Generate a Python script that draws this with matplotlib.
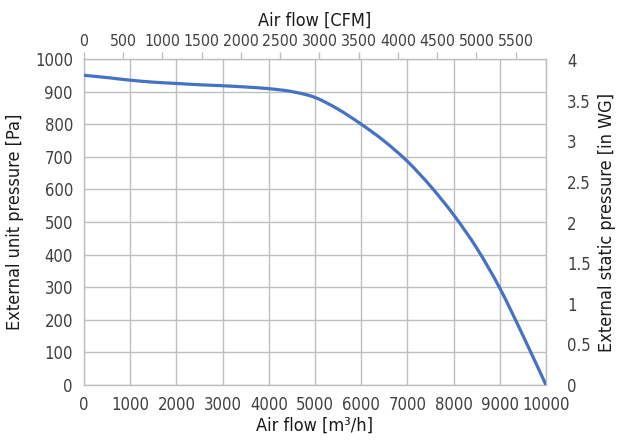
import matplotlib
matplotlib.use("Agg")
import matplotlib.pyplot as plt
from matplotlib import font_manager
from matplotlib.path import Path
from matplotlib.patches import PathPatch

# Fan curve: air flow [m3/h] vs external unit pressure [Pa]
airflow_m3h = [0, 500, 1000, 1500, 2000, 2500, 3000, 3500, 4000, 4500, 5000,
               5500, 6000, 6500, 7000, 7500, 8000, 8500, 9000, 9500, 10000]
pressure_pa = [950, 943, 935, 929, 925, 921, 918, 914, 909, 900, 882,
               846, 800, 748, 686, 610, 522, 420, 297, 152, 0]

bottom_ticks = [0, 1000, 2000, 3000, 4000, 5000, 6000, 7000, 8000, 9000, 10000]
left_ticks = [0, 100, 200, 300, 400, 500, 600, 700, 800, 900, 1000]
top_ticks = [0, 500, 1000, 1500, 2000, 2500, 3000, 3500, 4000, 4500, 5000, 5500]
right_ticks = [0, 0.5, 1, 1.5, 2, 2.5, 3, 3.5, 4]

M3H_TO_CFM = 0.588578
PA_PER_INWG = 249.0889

# Prefer a narrow sans-serif face if one is installed
narrow = None
for f in font_manager.fontManager.ttflist:
    nm = f.fname.lower().rsplit("/", 1)[-1]
    if ("narrow" in nm or "condensed" in nm) and "sans" in nm \
            and not any(k in nm for k in ("bold", "italic", "oblique", "mono", "serif")):
        narrow = f
        break

if narrow is not None:
    plt.rcParams["font.family"] = [narrow.name, "DejaVu Sans"]
    plt.rcParams["font.stretch"] = narrow.stretch
    tick_size, top_size, lab_size = 12, 11.3, 13
else:
    plt.rcParams["font.family"] = ["Roboto", "DejaVu Sans"]
    tick_size, top_size, lab_size = 12, 10.5, 12.5

grid_c = "#BFBFBF"
tick_c = "#404040"
label_c = "#1A1A1A"

fig = plt.figure(figsize=(6.2, 4.4), dpi=100)
ax = fig.add_axes([84 / 620, 55 / 440, 462 / 620, 326 / 440])

# Smooth curve through the measured points (Catmull-Rom as cubic Bezier segments)
pts = list(zip(airflow_m3h, pressure_pa))
verts = [pts[0]]
codes = [Path.MOVETO]
for i in range(len(pts) - 1):
    p0 = pts[i - 1] if i > 0 else pts[i]
    p1 = pts[i]
    p2 = pts[i + 1]
    p3 = pts[i + 2] if i + 2 < len(pts) else pts[i + 1]
    c1 = (p1[0] + (p2[0] - p0[0]) / 6, p1[1] + (p2[1] - p0[1]) / 6)
    c2 = (p2[0] - (p3[0] - p1[0]) / 6, p2[1] - (p3[1] - p1[1]) / 6)
    verts += [c1, c2, p2]
    codes += [Path.CURVE4] * 3
ax.add_patch(PathPatch(Path(verts, codes), fill=False, edgecolor="#4472C4",
                       lw=2.3, capstyle="round", joinstyle="round", zorder=3))

ax.set_xlim(0, 10000)
ax.set_ylim(0, 1000)
ax.set_xticks(bottom_ticks)
ax.set_yticks(left_ticks)
ax.grid(True, color=grid_c, lw=1.0)
for s in ax.spines.values():
    s.set_color(grid_c)
    s.set_linewidth(1.0)
ax.tick_params(axis="both", length=0, labelsize=tick_size, colors=tick_c, pad=8)
ax.set_xlabel("Air flow [m³/h]", fontsize=lab_size, color=label_c, labelpad=2)
ax.set_ylabel("External unit pressure [Pa]", fontsize=lab_size, color=label_c,
              labelpad=8)

# Secondary axis: CFM on top
top = ax.secondary_xaxis("top", functions=(lambda x: x * M3H_TO_CFM,
                                            lambda c: c / M3H_TO_CFM))
top.set_xticks(top_ticks)
top.tick_params(axis="x", length=5, width=1, color=grid_c, labelsize=top_size,
                labelcolor=tick_c, pad=2)
top.spines["top"].set_visible(False)
top.set_xlabel("Air flow [CFM]", fontsize=lab_size, color=label_c, labelpad=6)

# Secondary axis: inches of water gauge on the right
right = ax.secondary_yaxis("right", functions=(lambda p: p / PA_PER_INWG,
                                                lambda w: w * PA_PER_INWG))
right.set_yticks(right_ticks)
right.set_yticklabels([f"{v:g}" for v in right_ticks])
right.tick_params(axis="y", length=0, labelsize=tick_size, labelcolor=tick_c, pad=15)
right.spines["right"].set_visible(False)
right.set_ylabel("External static pressure [in WG]", fontsize=lab_size, color=label_c,
                 labelpad=5)

fig.savefig("out.png", dpi=100, facecolor="white")
